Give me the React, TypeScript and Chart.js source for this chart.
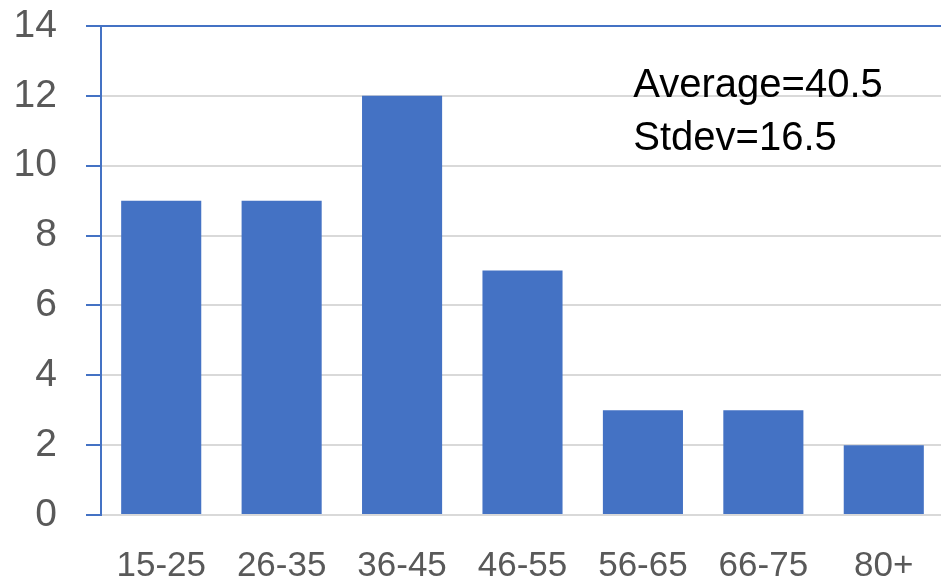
import React, { useEffect, useRef } from "react";
import { Chart, registerables } from "chart.js";

Chart.register(...registerables);

const categories = ["15-25", "26-35", "36-45", "46-55", "56-65", "66-75", "80+"];
const counts = [9, 9, 12, 7, 3, 3, 2];
const annotationLines = ["Average=40.5", "Stdev=16.5"];
const yMin = 0;
const yMax = 14;
const yStep = 2;

const BLUE = "#4472C4";
const GRID = "#D9D9D9";
const TEXT = "#595959";
const FONT = "'Liberation Sans', Arial, sans-serif";

const annotationPlugin = {
  id: "statsText",
  afterDraw(chart: any) {
    const { ctx, scales } = chart;
    const x = scales.x.getPixelForValue(3.92);
    const ys = [11.97, 10.45];
    ctx.save();
    ctx.fillStyle = "#000000";
    ctx.font = `40px ${FONT}`;
    ctx.textAlign = "left";
    ctx.textBaseline = "alphabetic";
    annotationLines.forEach((t, i) => {
      ctx.fillText(t, x, scales.y.getPixelForValue(ys[i]));
    });
    ctx.restore();
  },
};

export default function App() {
  const ref = useRef<HTMLCanvasElement | null>(null);
  useEffect(() => {
    document.body.style.margin = "0";
    if (!ref.current) return;
    const chart = new Chart(ref.current, {
      type: "bar",
      data: {
        labels: categories,
        datasets: [
          {
            data: counts,
            backgroundColor: BLUE,
            borderWidth: 0,
            barPercentage: 0.665,
            categoryPercentage: 1,
          },
        ],
      },
      options: {
        animation: false,
        responsive: false,
        devicePixelRatio: 1,
        layout: { padding: { top: 26, left: 0, right: 0, bottom: 0 } },
        plugins: { legend: { display: false }, tooltip: { enabled: false } },
        scales: {
          x: {
            grid: { display: false, drawTicks: false, tickLength: 0 },
            border: { display: true, color: GRID, width: 2 },
            ticks: {
              color: TEXT,
              font: { family: FONT, size: 35 },
              padding: 30,
              maxRotation: 0,
            },
            afterFit: (s: any) => {
              s.height = 70;
              s.paddingLeft = 0;
              s.paddingRight = 0;
            },
          },
          y: {
            min: yMin,
            max: yMax,
            grid: {
              color: (c: any) => (c.tick && c.tick.value === yMax ? BLUE : GRID),
              lineWidth: 2,
              tickColor: BLUE,
              tickLength: 15,
              drawTicks: true,
            },
            border: { display: true, color: BLUE, width: 2 },
            ticks: {
              stepSize: yStep,
              color: TEXT,
              font: { family: FONT, size: 39 },
              padding: 29,
            },
            afterFit: (s: any) => {
              s.width = 101;
              s.paddingTop = 0;
              s.paddingBottom = 0;
            },
          },
        },
      },
      plugins: [annotationPlugin],
    });
    return () => chart.destroy();
  }, []);
  return (
    <div style={{ width: 941, height: 585, overflow: "hidden", background: "#fff" }}>
      <canvas ref={ref} width={944} height={585} style={{ display: "block" }} />
    </div>
  );
}
